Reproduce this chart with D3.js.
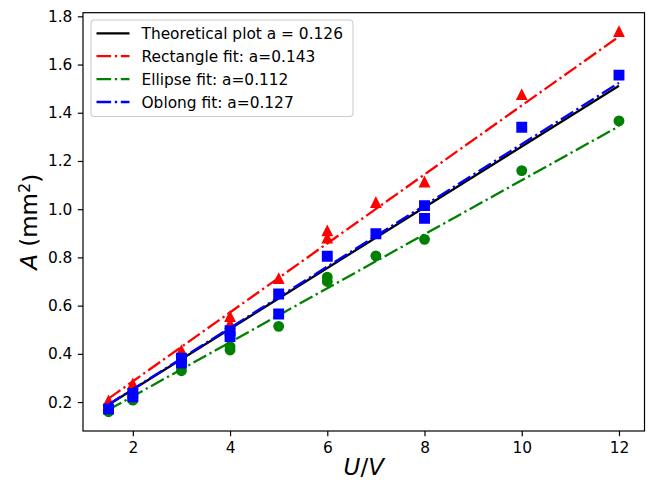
<!DOCTYPE html>
<html>
<head>
<meta charset="utf-8">
<script src="https://cdn.jsdelivr.net/npm/d3@7"></script>
<style>
  html, body { margin: 0; padding: 0; background: #fff; }
  svg { display: block; }
  text { font-family: "DejaVu Sans", sans-serif; }
</style>
</head>
<body>
<svg id="chart" width="649" height="484"></svg>
<script>
// Measured cross-section area A (mm^2) against voltage U (V)
const rectU = [1.5, 2, 3, 4, 4, 5, 6, 6, 7, 8, 10, 12];
const rectA = [0.205, 0.275, 0.413, 0.555, 0.525, 0.712, 0.910, 0.880, 1.028, 1.113, 1.475, 1.737];

const ellU = [1.5, 2, 3, 4, 4, 5, 6, 6, 7, 8, 10, 12];
const ellA = [0.160, 0.208, 0.330, 0.430, 0.416, 0.514, 0.718, 0.700, 0.806, 0.875, 1.160, 1.366];

const oblU = [1.5, 2, 2, 3, 3, 4, 4, 5, 5, 6, 7, 8, 8, 10, 12];
const oblA = [0.171, 0.236, 0.222, 0.382, 0.362, 0.496, 0.472, 0.648, 0.565, 0.805, 0.898, 1.015, 0.962, 1.340, 1.556];

// Slopes of the linear relations A = a * U
const aTheory = 0.126;
const aRect = 0.143;
const aEll = 0.112;
const aObl = 0.127;
const fitU = [1.5, 12];

const legendLabels = [
  "Theoretical plot a = 0.126",
  "Rectangle fit: a=0.143",
  "Ellipse fit: a=0.112",
  "Oblong fit: a=0.127"
];

const xTicks = [2, 4, 6, 8, 10, 12];
const yTicks = [0.2, 0.4, 0.6, 0.8, 1.0, 1.2, 1.4, 1.6, 1.8];

const svg = d3.select("#chart");
const W = 649, H = 484;
svg.append("rect").attr("width", W).attr("height", H).attr("fill", "#fff");

const plot = { left: 83, right: 644.5, top: 12.7, bottom: 431 };

const x = d3.scaleLinear().domain([0.975, 12.525]).range([plot.left, plot.right]);
const y = d3.scaleLinear().domain([0.08, 1.815]).range([plot.bottom, plot.top]);

const lw = 2.3;
const dashDot = "14.6,3.7,2.3,3.7";
const fs = "15.4px";

// Axes
const xAxis = d3.axisBottom(x).tickValues(xTicks).tickFormat(d3.format("d"))
  .tickSize(5.2).tickSizeOuter(0).tickPadding(5.6);
const yAxis = d3.axisLeft(y).tickValues(yTicks).tickFormat(d3.format(".1f"))
  .tickSize(5.2).tickSizeOuter(0).tickPadding(5.4);

const gx = svg.append("g").attr("transform", `translate(0,${plot.bottom})`).call(xAxis);
const gy = svg.append("g").attr("transform", `translate(${plot.left},0)`).call(yAxis);
[gx, gy].forEach(g => {
  g.select(".domain").remove();
  g.selectAll(".tick line").attr("stroke", "#000").attr("stroke-width", 1.2);
  g.selectAll(".tick text").attr("fill", "#000").style("font-size", fs)
    .style("font-family", "'DejaVu Sans', sans-serif");
});

// Lines and markers
const lineGen = d3.line().x(d => x(d[0])).y(d => y(d[1]));
const fitPts = a => fitU.map(u => [u, a * u]);

const layer = svg.append("g");

function drawLine(a, color, dash) {
  layer.append("path")
    .attr("d", lineGen(fitPts(a)))
    .attr("fill", "none")
    .attr("stroke", color)
    .attr("stroke-width", lw)
    .attr("stroke-dasharray", dash || null);
}

const ms = 9.4;
function drawMarkers(us, as, color, shape) {
  const sym = shape === "triangle"
    ? `M0,${-ms / 2}L${ms / 2},${ms / 2}L${-ms / 2},${ms / 2}Z`
    : shape === "square"
      ? `M${-ms / 2},${-ms / 2}h${ms}v${ms}h${-ms}Z`
      : null;
  const pts = us.map((u, i) => [u, as[i]]);
  pts.forEach(p => {
    if (sym) {
      layer.append("path")
        .attr("d", sym)
        .attr("transform", `translate(${x(p[0])},${y(p[1])})`)
        .attr("fill", color).attr("stroke", color).attr("stroke-width", 1.5)
        .attr("stroke-linejoin", "miter");
    } else {
      layer.append("circle")
        .attr("cx", x(p[0])).attr("cy", y(p[1])).attr("r", ms / 2)
        .attr("fill", color).attr("stroke", color).attr("stroke-width", 1.5);
    }
  });
}

drawLine(aTheory, "#000", null);
drawMarkers(rectU, rectA, "#ff0000", "triangle");
drawLine(aRect, "#ff0000", dashDot);
drawMarkers(ellU, ellA, "#008000", "circle");
drawLine(aEll, "#008000", dashDot);
drawMarkers(oblU, oblA, "#0000ff", "square");
drawLine(aObl, "#0000ff", dashDot);

// Frame
svg.append("rect")
  .attr("x", plot.left).attr("y", plot.top)
  .attr("width", plot.right - plot.left).attr("height", plot.bottom - plot.top)
  .attr("fill", "none").attr("stroke", "#000").attr("stroke-width", 1.2);

// Legend
const legendColors = ["#000", "#ff0000", "#008000", "#0000ff"];
const legendDash = [null, dashDot, dashDot, dashDot];
const leg = svg.append("g");
leg.append("rect")
  .attr("x", 91).attr("y", 20).attr("width", 262).attr("height", 96.5)
  .attr("rx", 3.5).attr("ry", 3.5)
  .attr("fill", "#fff").attr("fill-opacity", 0.8)
  .attr("stroke", "#cccccc").attr("stroke-width", 1.1);
legendLabels.forEach((lab, i) => {
  const ry = 33.3 + i * 22.9;
  leg.append("line")
    .attr("x1", 96.5).attr("x2", 129.5).attr("y1", ry).attr("y2", ry)
    .attr("stroke", legendColors[i]).attr("stroke-width", lw)
    .attr("stroke-dasharray", legendDash[i]);
  leg.append("text")
    .attr("x", 141.5).attr("y", ry + 5.5)
    .style("font-size", fs).attr("fill", "#000")
    .text(lab);
});

// Axis labels
const xl = svg.append("text")
  .attr("x", (plot.left + plot.right) / 2).attr("y", 475)
  .attr("text-anchor", "middle").style("font-size", "23px").attr("fill", "#000");
xl.append("tspan").attr("font-style", "italic").text("U");
xl.append("tspan").text("/");
xl.append("tspan").attr("font-style", "italic").text("V");

const yl = svg.append("text")
  .attr("transform", `translate(37,${(plot.top + plot.bottom) / 2}) rotate(-90)`)
  .attr("text-anchor", "middle").style("font-size", "23px").attr("fill", "#000");
yl.append("tspan").attr("font-style", "italic").text("A");
yl.append("tspan").text(" (mm");
yl.append("tspan").attr("dy", "-0.45em").style("font-size", "16px").text("2");
yl.append("tspan").attr("dy", "0.45em").text(")");
</script>
</body>
</html>
